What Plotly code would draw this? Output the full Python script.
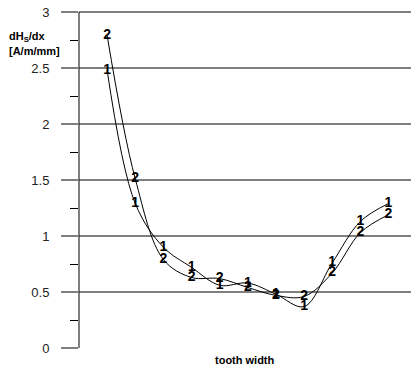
import plotly.graph_objects as go

# Positions along the tooth width (category index) and the two measured series
positions = [1, 2, 3, 4, 5, 6, 7, 8, 9, 10, 11]
series_1 = [2.48, 1.29, 0.90, 0.72, 0.56, 0.58, 0.48, 0.37, 0.76, 1.13, 1.29]
series_2 = [2.79, 1.51, 0.79, 0.63, 0.62, 0.54, 0.47, 0.46, 0.67, 1.03, 1.19]
series_names = ["1", "2"]

y_ticks = [0, 0.5, 1, 1.5, 2, 2.5, 3]
y_tick_labels = ["0", "0.5", "1", "1.5", "2", "2.5", "3"]

W, H = 411, 372
L, R, T, B = 79, 0, 9, 24
pw, ph = W - L - R, H - T - B

fig = go.Figure()
for name, vals in zip(series_names, [series_1, series_2]):
    fig.add_trace(go.Scatter(
        x=positions, y=vals, name=name,
        mode="lines+text",
        text=[name] * len(vals),
        textposition="middle center",
        textfont=dict(family="Arial, Liberation Sans", size=14, color="black", weight="bold"),
        line=dict(color="black", width=1, shape="spline", smoothing=1),
        cliponaxis=False,
        showlegend=False,
    ))

fig.update_layout(
    width=W, height=H,
    margin=dict(l=L, r=R, t=T, b=B),
    paper_bgcolor="white", plot_bgcolor="white",
    font=dict(family="Arial, Liberation Sans", color="black"),
    xaxis=dict(
        range=[0, 11.8], showgrid=False, zeroline=False, showline=False,
        showticklabels=False, ticks="",
    ),
    yaxis=dict(
        range=[0, 3.027], tickvals=y_ticks, ticktext=y_tick_labels,
        showgrid=True, gridcolor="#7f7f7f", gridwidth=1.5,
        zeroline=False, showline=False,
        ticks="outside", ticklen=17, tickcolor="#7f7f7f", tickwidth=1.5,
        ticklabelstandoff=9,
        tickfont=dict(size=13, color="#222222"),
        minor=dict(dtick=0.25, ticks="outside", ticklen=8, tickcolor="black",
                   tickwidth=1, showgrid=False),
    ),
)

# Vertical value axis line, from 0 up to the top tick
fig.add_shape(
    type="line", xref="paper", yref="y",
    x0=0, x1=0, y0=y_ticks[0], y1=y_ticks[-1],
    line=dict(color="black", width=1),
)

# Axis titles
fig.add_annotation(
    x=(245 - L) / pw, y=(H - 360 - B) / ph, xref="paper", yref="paper",
    text="tooth width", showarrow=False,
    font=dict(size=11, color="black", weight="bold"), xanchor="center", yanchor="middle",
)
fig.add_annotation(
    x=(7 - L) / pw, y=(H - 37 - B) / ph, xref="paper", yref="paper",
    text="dH<sub>S</sub>/dx", showarrow=False,
    font=dict(size=11, color="black", weight="bold"), xanchor="left", yanchor="middle",
)
fig.add_annotation(
    x=(7 - L) / pw, y=(H - 51 - B) / ph, xref="paper", yref="paper",
    text="[A/m/mm]", showarrow=False,
    font=dict(size=11, color="black", weight="bold"), xanchor="left", yanchor="middle",
)

fig.write_html("out.html")
